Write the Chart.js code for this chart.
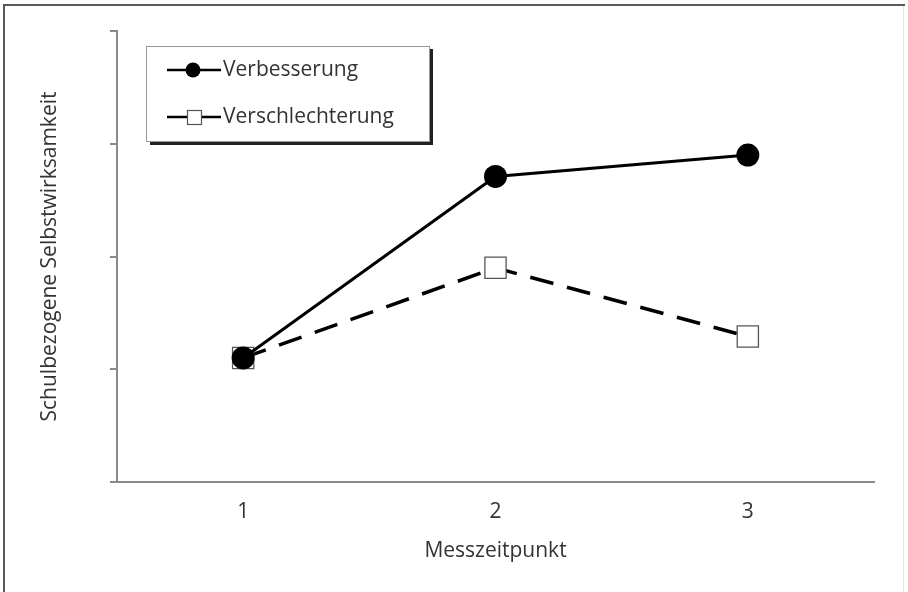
<!DOCTYPE html>
<html>
<head>
<meta charset="utf-8">
<script src="https://cdn.jsdelivr.net/npm/chart.js@4/dist/chart.umd.min.js"></script>
<style>
html,body{margin:0;padding:0;background:#fff;}
#c{display:block;}
</style>
</head>
<body>
<canvas id="c" width="908" height="592"></canvas>
<script>
const categories = ['1', '2', '3'];
const seriesNames = ['Verbesserung', 'Verschlechterung'];
const verbesserung = [1.10, 2.71, 2.90];
const verschlechterung = [1.10, 1.90, 1.29];
const yTicks = [0, 1, 2, 3, 4];
const xTitle = 'Messzeitpunkt';
const yTitle = 'Schulbezogene Selbstwirksamkeit';

const FONT = '"Open Sans", "DejaVu Sans", sans-serif';
const FS = 21;
const TEXT = '#333333';
const AXIS = '#8a8a8a';

const framePlugin = {
  id: 'frame',
  beforeDraw(chart) {
    const ctx = chart.ctx;
    ctx.save();
    ctx.fillStyle = '#fff';
    ctx.fillRect(0, 0, chart.width, chart.height);
    ctx.strokeStyle = '#e4e4e4';
    ctx.lineWidth = 1;
    ctx.beginPath();
    ctx.moveTo(903.5, 5); ctx.lineTo(903.5, 592);
    ctx.stroke();
    ctx.strokeStyle = '#5a5a5a';
    ctx.lineWidth = 2;
    ctx.beginPath();
    ctx.moveTo(4, 592); ctx.lineTo(4, 5); ctx.lineTo(905, 5);
    ctx.stroke();
    ctx.restore();
  }
};

const legendPlugin = {
  id: 'boxLegend',
  afterDraw(chart) {
    const ctx = chart.ctx;
    const ds = chart.data.datasets;
    ctx.save();
    ctx.fillStyle = '#222';
    ctx.fillRect(430, 49, 3, 96);
    ctx.fillRect(150, 142, 283, 3);
    ctx.fillStyle = '#fff';
    ctx.fillRect(146, 46, 284, 96);
    ctx.strokeStyle = '#9a9a9a';
    ctx.lineWidth = 1;
    ctx.strokeRect(146.5, 46.5, 283, 95);
    const rows = [70, 117];
    ctx.font = FS + 'px ' + FONT;
    ctx.textBaseline = 'middle';
    ctx.textAlign = 'left';
    rows.forEach((y, i) => {
      ctx.strokeStyle = '#000';
      ctx.lineWidth = 2.5;
      ctx.beginPath();
      ctx.moveTo(167, y); ctx.lineTo(221, y);
      ctx.stroke();
      if (i === 0) {
        ctx.fillStyle = '#000';
        ctx.beginPath();
        ctx.arc(193, y, 7.5, 0, Math.PI * 2);
        ctx.fill();
      } else {
        ctx.fillStyle = '#fff';
        ctx.fillRect(187, y - 7, 15, 15);
        ctx.strokeStyle = '#555';
        ctx.lineWidth = 1.2;
        ctx.strokeRect(187.5, y - 6.5, 14, 14);
      }
      ctx.fillStyle = TEXT;
      ctx.fillText(ds[i].label, 223, y);
    });
    ctx.restore();
  }
};

new Chart(document.getElementById('c'), {
  type: 'line',
  data: {
    labels: categories,
    datasets: [
      {
        label: seriesNames[0],
        data: verbesserung,
        borderColor: '#000',
        borderWidth: 3,
        pointStyle: 'circle',
        pointRadius: 11.5,
        pointHoverRadius: 11.5,
        pointBackgroundColor: '#000',
        pointBorderColor: '#000',
        pointBorderWidth: 0,
        tension: 0
      },
      {
        label: seriesNames[1],
        data: verschlechterung,
        borderColor: '#000',
        borderWidth: 3.5,
        borderDash: [24, 14],
        pointStyle: 'rect',
        pointRadius: 15,
        pointHoverRadius: 15,
        pointBackgroundColor: '#fff',
        pointBorderColor: '#555',
        pointBorderWidth: 1.3,
        tension: 0
      }
    ]
  },
  options: {
    responsive: false,
    animation: false,
    events: [],
    layout: { padding: { top: 31, right: 34, left: 0, bottom: 0 } },
    plugins: {
      legend: { display: false },
      tooltip: { enabled: false },
      title: { display: false }
    },
    scales: {
      x: {
        type: 'category',
        offset: true,
        grid: { display: false, drawTicks: false },
        border: { display: true, color: AXIS, width: 2 },
        ticks: { color: TEXT, font: { family: FONT, size: FS }, padding: 17, maxRotation: 0 },
        title: { display: true, text: xTitle, color: TEXT, font: { family: FONT, size: FS }, padding: { top: 0, bottom: 28 } },
        afterFit(s) { s.height = 110; }
      },
      y: {
        min: yTicks[0],
        max: yTicks[yTicks.length - 1],
        afterBuildTicks(s) { s.ticks = yTicks.map(v => ({ value: v })); },
        grid: { display: true, drawOnChartArea: false, drawTicks: true, tickLength: 7, color: AXIS, lineWidth: 2 },
        border: { display: true, color: AXIS, width: 2 },
        ticks: { display: false },
        title: { display: true, text: yTitle, color: TEXT, font: { family: FONT, size: FS }, padding: { top: 37, bottom: 0 } },
        afterFit(s) { s.width = 117; }
      }
    }
  },
  plugins: [framePlugin, legendPlugin]
});
</script>
</body>
</html>
